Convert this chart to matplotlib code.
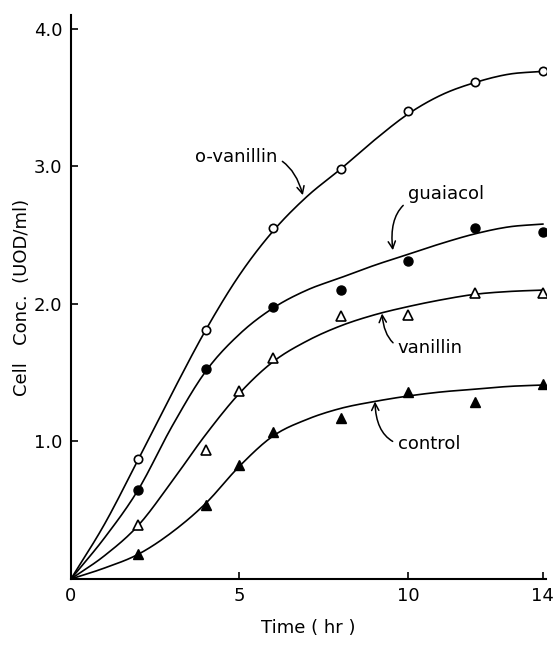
import matplotlib
matplotlib.use("Agg")
import matplotlib.pyplot as plt
import numpy as np

# measured points (hr, UOD/ml)
t_circ = [2, 4, 6, 8, 10, 12, 14]
o_vanillin = [0.87, 1.81, 2.55, 2.98, 3.40, 3.61, 3.69]
guaiacol = [0.65, 1.53, 1.98, 2.10, 2.31, 2.55, 2.52]

t_tri = [2, 4, 5, 6, 8, 10, 12, 14]
vanillin = [0.39, 0.94, 1.37, 1.61, 1.91, 1.92, 2.08, 2.08]
control = [0.18, 0.54, 0.83, 1.07, 1.17, 1.36, 1.29, 1.42]

t_curve = list(range(15))
o_vanillin_fit = [0, 0.40, 0.87, 1.35, 1.81, 2.21, 2.53, 2.78, 2.98, 3.19, 3.38, 3.52, 3.61, 3.67, 3.69]
guaiacol_fit = [0, 0.30, 0.65, 1.11, 1.51, 1.78, 1.97, 2.10, 2.19, 2.28, 2.36, 2.44, 2.51, 2.56, 2.58]
vanillin_fit = [0, 0.17, 0.39, 0.71, 1.05, 1.35, 1.58, 1.73, 1.84, 1.92, 1.98, 2.03, 2.07, 2.09, 2.10]
control_fit = [0, 0.08, 0.18, 0.34, 0.55, 0.82, 1.04, 1.16, 1.24, 1.29, 1.33, 1.36, 1.38, 1.40, 1.41]


def smooth(x, y, n=12):
    # catmull-rom through the read curve values, only to draw it round
    x = np.asarray(x, float)
    y = np.asarray(y, float)
    px = np.concatenate([[2 * x[0] - x[1]], x, [2 * x[-1] - x[-2]]])
    py = np.concatenate([[2 * y[0] - y[1]], y, [2 * y[-1] - y[-2]]])
    xs, ys = [], []
    s = np.linspace(0, 1, n, endpoint=False)
    for i in range(1, len(px) - 2):
        for arr, out in ((px, xs), (py, ys)):
            p0, p1, p2, p3 = arr[i - 1:i + 3]
            out.extend(0.5 * (2 * p1 + (-p0 + p2) * s
                              + (2 * p0 - 5 * p1 + 4 * p2 - p3) * s ** 2
                              + (-p0 + 3 * p1 - 3 * p2 + p3) * s ** 3))
    xs.append(x[-1])
    ys.append(y[-1])
    return xs, ys


fig = plt.figure(figsize=(5.54, 6.52), dpi=100)
ax = fig.add_axes([0.128, 0.112, 0.858, 0.865])

for fit in (o_vanillin_fit, guaiacol_fit, vanillin_fit, control_fit):
    ax.plot(*smooth(t_curve, fit), color="black", lw=1.2, zorder=2)

ax.plot(t_circ, o_vanillin, "o", ms=6, mfc="white", mec="black", mew=1.2, zorder=3)
ax.plot(t_circ, guaiacol, "o", ms=6.5, mfc="black", mec="black", zorder=3)
ax.plot(t_tri, vanillin, "^", ms=7, mfc="white", mec="black", mew=1.2, zorder=3)
ax.plot(t_tri, control, "^", ms=7, mfc="black", mec="black", zorder=3)

fs = 13
arrow = dict(arrowstyle="->", color="black", lw=1.1)
ax.annotate("o-vanillin", xy=(6.88, 2.79), xytext=(4.9, 3.07), fontsize=fs,
            ha="center", va="center",
            arrowprops=dict(arrow, connectionstyle="arc3,rad=-0.5", shrinkA=2, shrinkB=0))
ax.annotate("guaiacol", xy=(9.55, 2.39), xytext=(10.0, 2.80), fontsize=fs,
            ha="left", va="center",
            arrowprops=dict(arrow, connectionstyle="arc3,rad=0.6", shrinkA=2, shrinkB=0))
ax.annotate("vanillin", xy=(9.23, 1.93), xytext=(9.7, 1.68), fontsize=fs,
            ha="left", va="center",
            arrowprops=dict(arrow, connectionstyle="arc3,rad=-0.6", shrinkA=2, shrinkB=0))
ax.annotate("control", xy=(9.02, 1.29), xytext=(9.7, 0.98), fontsize=fs,
            ha="left", va="center",
            arrowprops=dict(arrow, connectionstyle="arc3,rad=-0.6", shrinkA=2, shrinkB=0))

ax.set_xlim(0, 14.1)
ax.set_ylim(0, 4.1)
ax.set_xticks([0, 5, 10, 14])
ax.set_yticks([1.0, 2.0, 3.0, 4.0])
ax.set_yticklabels(["1.0", "2.0", "3.0", "4.0"])
ax.tick_params(direction="in", length=5, width=1.2, labelsize=fs, pad=6)
ax.spines["top"].set_visible(False)
ax.spines["right"].set_visible(False)
ax.spines["left"].set_linewidth(1.5)
ax.spines["bottom"].set_linewidth(1.5)

ax.set_xlabel("Time ( hr )", fontsize=fs, labelpad=10)
ax.set_ylabel("Cell   Conc.  (UOD/ml)", fontsize=fs, labelpad=2)

fig.savefig("out.png", dpi=100)
